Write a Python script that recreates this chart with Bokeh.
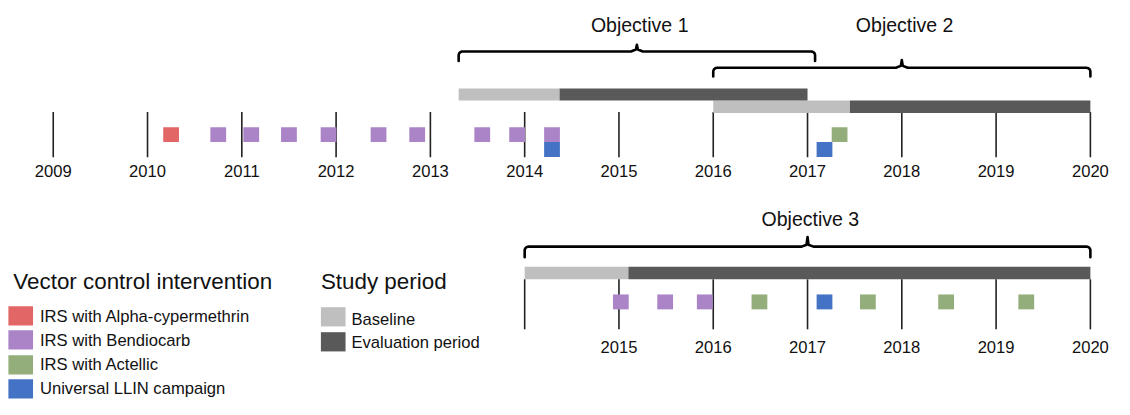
import numpy as np
from bokeh.plotting import figure
from bokeh.models import Range1d
from bokeh.core.properties import value
from bokeh.embed import file_html
from bokeh.resources import INLINE

# ---------------- data ----------------
top_years = [2009, 2010, 2011, 2012, 2013, 2014, 2015, 2016, 2017, 2018, 2019, 2020]
top_labels = [str(y) for y in top_years]
bottom_years = [2014, 2015, 2016, 2017, 2018, 2019, 2020]
bottom_labels = ["", "2015", "2016", "2017", "2018", "2019", "2020"]

objectives = ["Objective 1", "Objective 2", "Objective 3"]
obj_start = [2013.30, 2016.00, 2014.00]
obj_baseline_end = [2014.37, 2017.45, 2015.10]
obj_end = [2017.00, 2020.00, 2020.00]
obj_brace_end = [2017.08, 2020.00, 2020.00]

# top timeline interventions
top_alpha = [2010.25]
top_bendiocarb = [2010.75, 2011.10, 2011.50, 2011.92, 2012.45, 2012.86, 2013.55, 2013.92, 2014.29]
top_actellic = [2017.34]
top_llin = [2014.29, 2017.18]
# bottom timeline interventions
bot_bendiocarb = [2015.02, 2015.49, 2015.91]
bot_actellic = [2016.49, 2017.64, 2018.47, 2019.32]
bot_llin = [2017.18]

legend_interventions = ["IRS with Alpha-cypermethrin", "IRS with Bendiocarb",
                        "IRS with Actellic", "Universal LLIN campaign"]
legend_periods = ["Baseline", "Evaluation period"]

# ---------------- style ----------------
C_ALPHA = "#e36666"
C_BEND = "#ab84c7"
C_ACT = "#93ad7b"
C_LLIN = "#4472c4"
C_BASE = "#bfbfbf"
C_EVAL = "#595959"
C_TEXT = "#111111"
FONT = value("Liberation Sans")

W, H = 1114, 399          # figure size (fits window with 8px margin)
REF_W, REF_H = 1130, 415  # layout coordinates
PX_PER_YEAR = 95.64
X_2009 = 53.5
x0 = 2009 + (0 - X_2009) / PX_PER_YEAR
x1 = 2009 + (REF_W - X_2009) / PX_PER_YEAR

p = figure(width=W, height=H, output_backend="svg", toolbar_location=None,
           x_range=Range1d(x0, x1), y_range=Range1d(REF_H, 0),
           x_axis_location=None, y_axis_location=None, min_border=0)
p.extra_x_ranges = {"px": Range1d(0, REF_W)}
p.grid.visible = False
p.outline_line_color = None
p.background_fill_color = "white"
p.border_fill_color = "white"

SQ_W = 16 / PX_PER_YEAR
SQ_H = 15.5


def squares(xs, yc, color):
    p.rect(x=xs, y=[yc] * len(xs), width=SQ_W, height=SQ_H,
           fill_color=color, line_color=None)


def brace(xa, xb, y_line, y_end, y_peak):
    r = 4.0
    rx = r / PX_PER_YEAR
    xm = (xa + xb) / 2
    t = np.linspace(0, np.pi / 2, 7)
    xs = [xa]
    ys = [y_end]
    xs += list(xa + rx * (1 - np.cos(t)))
    ys += list(y_line + r * (1 - np.sin(t)))
    xs += [xm - 1.5 * rx, xm - 0.25 * rx, xm, xm + 0.25 * rx, xm + 1.5 * rx]
    ys += [y_line, y_line - 2.0, y_peak, y_line - 2.0, y_line]
    xs += list(xb - rx + rx * np.sin(t))
    ys += list(y_line + r - r * np.cos(t))
    xs += [xb]
    ys += [y_end]
    p.line(xs, ys, line_width=2.6, line_color="black", line_join="round", line_cap="round")


# ---------------- top timeline ----------------
p.segment(x0=top_years, y0=[116] * len(top_years), x1=top_years, y1=[163] * len(top_years),
          line_color="#222222", line_width=1.6)
p.text(x=top_years, y=[177] * len(top_years), text=top_labels, text_font=FONT,
       text_font_size="16.6px", text_align="center", text_baseline="middle", text_color=C_TEXT)

bar_tops = [91.5, 104, 277]
bar_bots = [104, 117, 290]
p.quad(left=obj_start, right=obj_baseline_end, top=bar_tops, bottom=bar_bots,
       fill_color=C_BASE, line_color=None)
p.quad(left=obj_baseline_end, right=obj_end, top=bar_tops, bottom=bar_bots,
       fill_color=C_EVAL, line_color=None)

squares(top_alpha, 139.5, C_ALPHA)
squares(top_bendiocarb, 139.5, C_BEND)
squares(top_actellic, 139.5, C_ACT)
squares(top_llin, 155, C_LLIN)

# braces and objective labels
brace_lines = [(53, 63, 46), (70, 79, 62), (256, 267, 246)]
label_y = [25, 25, 227]
for i in range(3):
    yl, ye, yp = brace_lines[i]
    brace(obj_start[i], obj_brace_end[i], yl, ye, yp)
p.text(x=[(obj_start[i] + obj_brace_end[i]) / 2 + 0.03 for i in range(3)], y=label_y,
       text=objectives, text_font=FONT, text_font_size="19.5px", text_align="center",
       text_baseline="middle", text_color=C_TEXT)

# ---------------- bottom timeline ----------------
p.segment(x0=bottom_years, y0=[290] * len(bottom_years), x1=bottom_years, y1=[342] * len(bottom_years),
          line_color="#222222", line_width=1.6)
p.text(x=bottom_years, y=[360] * len(bottom_years), text=bottom_labels, text_font=FONT,
       text_font_size="16.6px", text_align="center", text_baseline="middle", text_color=C_TEXT)
squares(bot_bendiocarb, 313.5, C_BEND)
squares(bot_actellic, 313.5, C_ACT)
squares(bot_llin, 313.5, C_LLIN)

# ---------------- legend ----------------
p.text(x=[13, 325], y=[292, 292], text=["Vector control intervention", "Study period"],
       text_font=FONT, text_font_size="22.4px", text_align="left", text_baseline="middle",
       text_color=C_TEXT, x_range_name="px")
leg_cols = [C_ALPHA, C_BEND, C_ACT, C_LLIN]
leg_tops = [318, 343, 369, 394]
p.quad(left=[8] * 4, right=[33] * 4, top=leg_tops, bottom=[t + 20 for t in leg_tops],
       fill_color=leg_cols, line_color=None, x_range_name="px")
p.text(x=[40] * 4, y=[329, 354, 379, 404], text=legend_interventions, text_font=FONT,
       text_font_size="16.6px", text_align="left", text_baseline="middle", text_color=C_TEXT,
       x_range_name="px")
per_tops = [319, 345]
p.quad(left=[325] * 2, right=[350] * 2, top=per_tops, bottom=[t + 20 for t in per_tops],
       fill_color=[C_BASE, C_EVAL], line_color=None, x_range_name="px")
p.text(x=[356] * 2, y=[332, 356], text=legend_periods, text_font=FONT,
       text_font_size="16.6px", text_align="left", text_baseline="middle", text_color=C_TEXT,
       x_range_name="px")

open("out.html", "w").write(file_html(p, INLINE))
